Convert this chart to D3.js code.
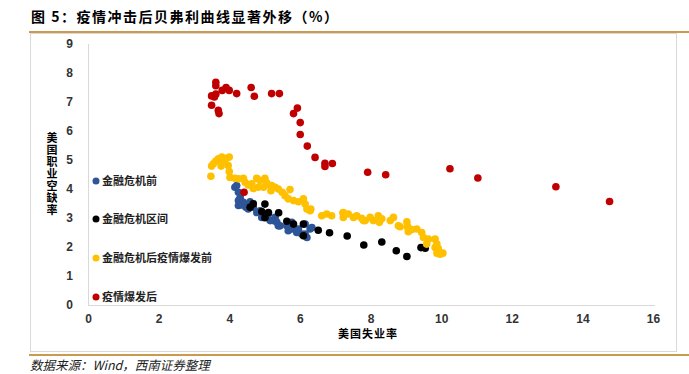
<!DOCTYPE html>
<html>
<head>
<meta charset="utf-8">
<script src="https://cdn.jsdelivr.net/npm/d3@7"></script>
<style>
    body { margin: 0; background: #fff; }
    svg { display: block; }
    .cjk { font-family: "Noto Sans CJK SC", sans-serif; }
    .num { font-family: "Liberation Sans", Arial, sans-serif; font-weight: bold; }
</style>
</head>
<body>
<div id="chart"></div>
<script>
    // [unemployment %, job openings rate %]
    var preCrisis = [
        [4.16, 4.06], [4.21, 4.12], [4.26, 3.89], [4.31, 3.71], [4.26, 3.43], [4.40, 3.54],
        [4.40, 3.48], [4.47, 3.37], [4.59, 3.56], [4.54, 3.31], [4.68, 3.37], [4.78, 3.19],
        [4.87, 3.25], [4.92, 3.02], [5.06, 3.02], [5.11, 3.14], [5.16, 2.91], [5.25, 2.91],
        [5.30, 3.02], [5.35, 2.85], [5.39, 2.73], [5.44, 2.73], [5.63, 2.73], [5.67, 2.56],
        [5.77, 2.62], [5.77, 2.85], [5.91, 2.50], [5.96, 2.62], [6.05, 2.45], [6.15, 2.45],
        [6.20, 2.33], [6.29, 2.62], [6.34, 2.67], [6.15, 2.79], [4.26, 3.60], [4.35, 3.45]
    ];
    var crisis = [
        [4.59, 3.37], [4.68, 3.49], [5.01, 3.48], [4.92, 3.22], [5.11, 3.19], [5.01, 3.01],
        [5.40, 3.18], [5.63, 2.89], [5.82, 2.79], [6.10, 2.79], [6.10, 2.39], [6.52, 2.58],
        [6.84, 2.49], [7.34, 2.38], [7.81, 2.07], [8.32, 2.17], [8.73, 1.87], [9.03, 1.67],
        [9.43, 1.98], [9.55, 1.96]
    ];
    var postCrisis = [
        [9.88, 1.79], [10.05, 1.79], [9.92, 1.95], [9.88, 2.10], [9.59, 2.10], [9.83, 2.27],
        [9.64, 2.27], [9.50, 2.33], [9.45, 2.50], [9.31, 2.62], [9.17, 2.60], [9.07, 2.53],
        [9.05, 2.71], [9.03, 2.87], [8.79, 2.73], [8.65, 3.02], [8.56, 2.91], [8.32, 2.97],
        [8.25, 2.85], [8.22, 3.08], [8.08, 2.91], [7.99, 3.02], [7.85, 2.91], [7.75, 2.99],
        [7.61, 3.08], [7.52, 3.02], [7.37, 3.14], [7.23, 3.02], [7.22, 3.17], [6.90, 3.08],
        [6.76, 3.14], [6.62, 3.08], [6.31, 3.31], [6.20, 3.31], [6.15, 3.48], [6.10, 3.66],
        [5.96, 3.56], [5.82, 3.60], [5.67, 3.66], [5.58, 3.77], [5.72, 3.98], [5.50, 3.89],
        [5.39, 4.00], [5.18, 3.94], [5.30, 4.06], [5.16, 4.12], [4.97, 4.06], [4.82, 4.06],
        [4.68, 4.02], [5.06, 4.21], [5.01, 4.37], [4.87, 4.29], [4.78, 4.37], [4.64, 4.18],
        [4.54, 4.14], [4.45, 4.23], [4.40, 4.37], [4.26, 4.35], [4.16, 4.37], [4.02, 4.40],
        [4.00, 4.60], [3.48, 4.44], [3.50, 4.79], [3.55, 4.87], [3.62, 4.96], [3.69, 5.04],
        [3.79, 5.10], [3.93, 5.06], [4.00, 5.10], [3.83, 4.95], [3.77, 4.79], [3.97, 4.81],
        [9.83, 1.98], [9.97, 1.75], [5.20, 4.12], [6.29, 3.25], [7.23, 3.19], [7.80, 2.91],
        [8.84, 2.70], [9.07, 2.62]
    ];
    var pandemic = [
        [3.62, 7.68], [3.62, 7.56], [3.50, 7.21], [3.62, 7.27], [3.58, 7.17], [3.80, 7.40],
        [3.91, 7.50], [4.00, 7.40], [4.21, 7.29], [4.62, 7.50], [4.71, 7.20], [5.20, 7.29],
        [5.42, 7.29], [3.50, 6.89], [3.69, 6.71], [3.71, 6.60], [5.93, 6.79], [5.82, 6.60],
        [6.01, 6.29], [6.01, 5.88], [6.21, 5.48], [6.43, 5.09], [6.71, 4.89], [6.71, 4.78],
        [6.92, 4.88], [7.92, 4.58], [8.43, 4.49], [10.25, 4.70], [11.04, 4.38], [13.25, 4.08],
        [14.77, 3.57], [4.42, 3.89]
    ];

    var seriesNames = ['金融危机前', '金融危机区间', '金融危机后疫情爆发前', '疫情爆发后'];
    var seriesColors = ['#2e5597', '#000000', '#ffc000', '#c00000'];
    var seriesData = [preCrisis, crisis, postCrisis, pandemic];
    var xTicks = [0, 2, 4, 6, 8, 10, 12, 14, 16];
    var yTicks = [0, 1, 2, 3, 4, 5, 6, 7, 8, 9];

    var width = 689, height = 374;
    var svg = d3.select('#chart').append('svg')
        .attr('width', width)
        .attr('height', height);

    // title and frame
    svg.append('text')
        .attr('class', 'cjk')
        .attr('x', 31).attr('y', 22)
        .attr('font-size', 14).attr('font-weight', 'bold')
        .attr('letter-spacing', 1.5)
        .text('图 5：疫情冲击后贝弗利曲线显著外移（%）');

    svg.append('rect')
        .attr('x', 30.5).attr('y', 33.5)
        .attr('width', 646).attr('height', 318)
        .attr('fill', 'none').attr('stroke', '#d9d9d9');

    svg.append('line')
        .attr('x1', 29).attr('x2', width).attr('y1', 32).attr('y2', 32)
        .attr('stroke', '#cc9a4f').attr('stroke-width', 2);
    svg.append('line')
        .attr('x1', 29).attr('x2', width).attr('y1', 355).attr('y2', 355)
        .attr('stroke', '#cc9a4f').attr('stroke-width', 2);

    svg.append('text')
        .attr('class', 'cjk')
        .attr('x', 30).attr('y', 370)
        .attr('font-size', 12.5).attr('font-style', 'italic')
        .attr('fill', '#222')
        .text('数据来源：Wind，西南证券整理');

    var x = d3.scaleLinear().domain([0, 16]).range([88, 653]);
    var y = d3.scaleLinear().domain([0, 9]).range([305, 44]);

    // axes
    var xAxis = svg.append('g')
        .attr('transform', 'translate(0,305)')
        .call(d3.axisBottom(x).tickValues(xTicks).tickSize(0).tickPadding(9));
    xAxis.select('.domain').attr('stroke', '#d9d9d9').attr('d', 'M88,0.5H655');
    xAxis.selectAll('text').attr('class', 'num').attr('font-size', 12).attr('fill', '#333');

    var yAxis = svg.append('g')
        .attr('transform', 'translate(88,0)')
        .call(d3.axisLeft(y).tickValues(yTicks).tickSize(0).tickPadding(15));
    yAxis.select('.domain').attr('stroke', '#d9d9d9').attr('d', 'M0.5,44V305');
    yAxis.selectAll('text').attr('class', 'num').attr('font-size', 12).attr('fill', '#333');

    svg.append('text')
        .attr('class', 'cjk')
        .attr('x', 368).attr('y', 338)
        .attr('text-anchor', 'middle')
        .attr('font-size', 11).attr('font-weight', 'bold')
        .attr('letter-spacing', 1)
        .text('美国失业率');

    // vertical, upright characters
    svg.append('text')
        .attr('class', 'cjk')
        .attr('x', 52).attr('y', 132)
        .attr('writing-mode', 'tb')
        .attr('font-size', 11).attr('font-weight', 'bold')
        .attr('letter-spacing', 1)
        .text('美国职业空缺率');

    // points
    seriesData.forEach(function (pts, k) {
        svg.append('g').selectAll('circle')
            .data(pts)
            .enter().append('circle')
            .attr('cx', function (d) { return x(d[0]); })
            .attr('cy', function (d) { return y(d[1]); })
            .attr('r', 3.8)
            .attr('fill', seriesColors[k]);
    });

    // legend
    var legendY = [181, 219, 258, 297];
    var legend = svg.append('g').selectAll('g')
        .data(seriesNames)
        .enter().append('g')
        .attr('transform', function (d, i) { return 'translate(96,' + legendY[i] + ')'; });
    legend.append('circle')
        .attr('r', 3.5)
        .attr('fill', function (d, i) { return seriesColors[i]; });
    legend.append('text')
        .attr('class', 'cjk')
        .attr('x', 6).attr('y', 4)
        .attr('font-size', 11).attr('font-weight', 'bold')
        .attr('fill', '#222')
        .text(function (d) { return d; });
</script>
</body>
</html>
